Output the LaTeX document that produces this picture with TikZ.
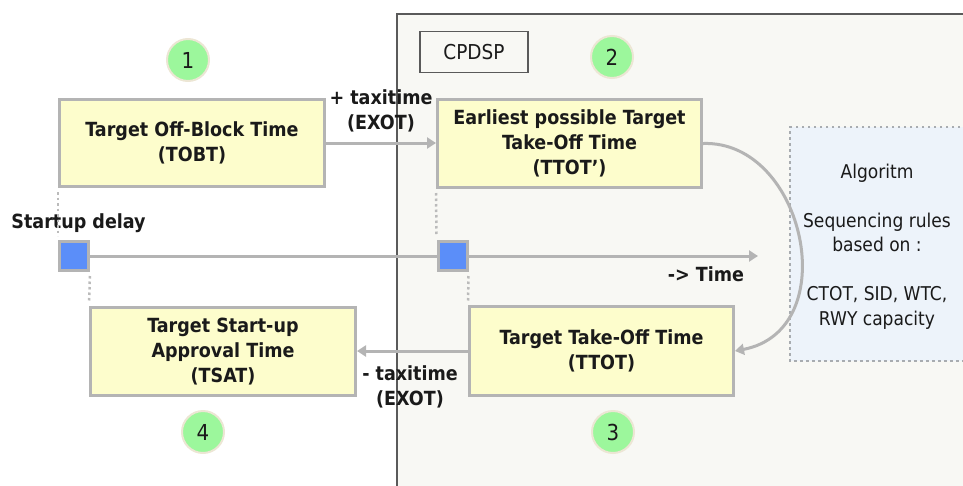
\documentclass[tikz,border=0pt]{standalone}
\usepackage{fontspec}
\setmainfont{DejaVu Sans Condensed}
\usetikzlibrary{arrows.meta}
\definecolor{boxfill}{HTML}{FDFDCC}
\definecolor{boxline}{HTML}{B4B4B4}
\definecolor{areafill}{HTML}{F8F8F4}
\definecolor{arealine}{HTML}{5A5A5A}
\definecolor{algofill}{HTML}{EDF3FA}
\definecolor{algoline}{HTML}{A8ACB0}
\definecolor{stepgreen}{HTML}{9CF79C}
\definecolor{halo}{HTML}{ECE6D4}
\definecolor{sqblue}{HTML}{5B8EF9}
\definecolor{ink}{HTML}{1A1A1A}
\tikzset{
  timebox/.style={draw=boxline, fill=boxfill, line width=3pt, inner sep=0pt,
    align=center, text=ink, font=\bfseries\fontsize{19.5}{25}\selectfont},
  stepnum/.style={circle, fill=stepgreen, draw=halo, line width=2pt,
    minimum size=42pt, inner sep=0pt, text=ink, font=\fontsize{22}{22}\selectfont},
  marker/.style={rectangle, fill=sqblue, draw=boxline, line width=3pt,
    minimum size=29pt, inner sep=0pt},
  flow/.style={draw=boxline, line width=3pt, -{Triangle[length=9pt,width=11pt]}},
  plainline/.style={draw=boxline, line width=3pt},
  guide/.style={draw=boxline!90, line width=2.5pt, dash pattern=on 2.5pt off 3pt,
    shorten <=4pt, shorten >=4pt},
  boldlabel/.style={align=center, text=ink, inner sep=0pt,
    font=\bfseries\fontsize{19.5}{25}\selectfont},
  normlabel/.style={align=center, text=ink, inner sep=0pt,
    font=\fontsize{19}{24.5}\selectfont},
}
\begin{document}
\begin{tikzpicture}[x=1pt, y=-1pt]
\useasboundingbox (0,0) rectangle (963,485);

% CPDSP area
\fill[areafill] (397,14) rectangle (966,488);
\draw[arealine, line width=1.5pt] (966,14) -- (397,14) -- (397,488);
\node[draw=arealine, line width=1.2pt, fill=areafill, minimum width=108pt,
  minimum height=41pt, inner sep=0pt, font=\fontsize{20.5}{20.5}\selectfont, text=ink]
  (cpdsp) at (474,52) {CPDSP};

% algorithm panel
\fill[algofill] (790,127) rectangle (966,361);
\draw[algoline, line width=2.5pt, dash pattern=on 2.5pt off 3.5pt]
  (966,127) -- (790,127) -- (790,361) -- (966,361);
\node[normlabel] (algo) at (877,246.5)
  {Algoritm\\[24.5pt]Sequencing rules\\based on :\\[24.5pt]CTOT, SID, WTC,\\RWY capacity};

% time boxes
\node[timebox, minimum width=265pt, minimum height=87pt] (tobt) at (192,143)
  {Target Off-Block Time\\(TOBT)};
\node[timebox, minimum width=264pt, minimum height=88pt] (ttotp) at (569.5,143.5)
  {Earliest possible Target\\Take-Off Time\\(TTOT’)};
\node[timebox, minimum width=265pt, minimum height=88pt] (tsat) at (223,351.5)
  {Target Start-up\\Approval Time\\(TSAT)};
\node[timebox, minimum width=264pt, minimum height=89pt] (ttot) at (601.5,351)
  {Target Take-Off Time\\(TTOT)};

% step numbers
\node[stepnum] (n1) at (188,60) {1};
\node[stepnum] (n2) at (612,57) {2};
\node[stepnum] (n3) at (613,432) {3};
\node[stepnum] (n4) at (203,432) {4};

% time line with markers
\node[marker] (sqL) at (74,256) {};
\node[marker] (sqR) at (452.5,256) {};
\coordinate (tend) at (758,256);
\draw[plainline] (sqL.east) -- (sqR.west);
\draw[flow] (sqR.east) -- (tend);
\node[boldlabel] (timelbl) at (706,274) {{-}> Time};
\node[boldlabel] (delay) at (78.5,223) {Startup delay};

% dotted guides
\draw[guide] (tobt.south west) -- (sqL.north west);
\draw[guide] (sqL.south east) -- (tsat.north west);
\draw[guide] (ttotp.south west) -- (sqR.north west);
\draw[guide] (sqR.south east) -- (ttot.north west);

% transitions
\draw[flow] (tobt.east) -- (tobt.east -| ttotp.west);
\node[boldlabel] (plus) at (381,111) {+ taxitime\\(EXOT)};
\draw[flow] (ttot.west) -- (ttot.west -| tsat.east);
\node[boldlabel] (minus) at (410,387) {- taxitime\\(EXOT)};
\draw[flow] (ttotp.east) .. controls (805,140) and (845,330) .. (ttot.east);
\end{tikzpicture}
\end{document}
